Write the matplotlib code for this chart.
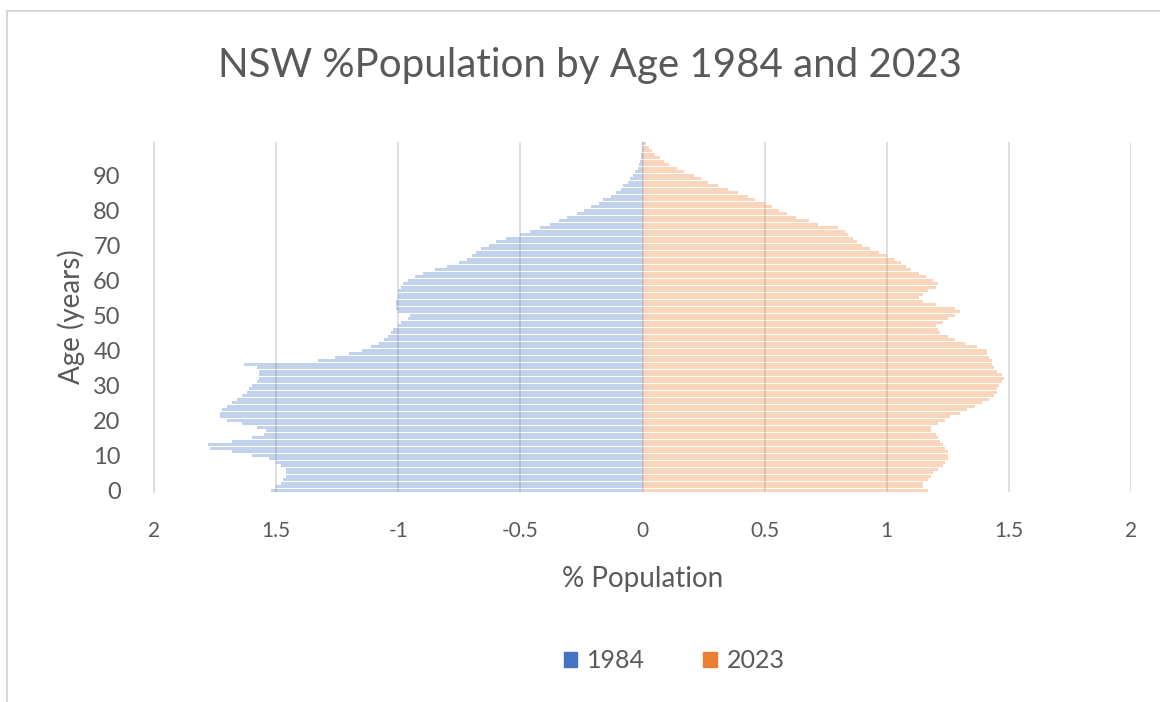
import numpy as np
import matplotlib
matplotlib.use("Agg")
import matplotlib.pyplot as plt
from matplotlib.patches import Rectangle

plt.rcParams['font.family'] = ['Lato', 'DejaVu Sans']

# single-year ages 0..99
ages = list(range(100))

# % of NSW population at each age, 1984 (drawn to the left)
pop1984 = [1.52, 1.50, 1.48, 1.47, 1.46, 1.46, 1.46, 1.48, 1.50, 1.53,
           1.60, 1.68, 1.77, 1.78, 1.68, 1.60, 1.55, 1.54, 1.58, 1.64,
           1.70, 1.73, 1.73, 1.72, 1.70, 1.68, 1.66, 1.64, 1.62, 1.61,
           1.60, 1.58, 1.57, 1.57, 1.57, 1.58, 1.63, 1.33, 1.26, 1.20,
           1.15, 1.11, 1.08, 1.06, 1.04, 1.03, 1.02, 1.00, 0.99, 0.96,
           0.95, 1.00, 1.01, 1.01, 1.01, 1.00, 1.00, 1.00, 0.99, 0.98,
           0.96, 0.93, 0.90, 0.85, 0.80, 0.75, 0.72, 0.70, 0.68, 0.66,
           0.63, 0.60, 0.56, 0.50, 0.46, 0.42, 0.38, 0.34, 0.31, 0.27,
           0.24, 0.21, 0.18, 0.16, 0.13, 0.11, 0.09, 0.08, 0.06, 0.05,
           0.04, 0.03, 0.02, 0.015, 0.01, 0.008, 0.005, 0.003, 0.002, 0.001]

# % of NSW population at each age, 2023 (drawn to the right)
pop2023 = [1.17, 1.15, 1.15, 1.17, 1.18, 1.19, 1.21, 1.23, 1.24, 1.25,
           1.25, 1.25, 1.24, 1.23, 1.22, 1.21, 1.20, 1.18, 1.18, 1.21,
           1.24, 1.26, 1.30, 1.33, 1.36, 1.39, 1.42, 1.44, 1.45, 1.45,
           1.46, 1.47, 1.48, 1.47, 1.45, 1.44, 1.43, 1.43, 1.42, 1.41,
           1.41, 1.37, 1.32, 1.28, 1.25, 1.22, 1.21, 1.20, 1.23, 1.25,
           1.28, 1.30, 1.28, 1.20, 1.15, 1.13, 1.15, 1.17, 1.20, 1.21,
           1.19, 1.16, 1.13, 1.10, 1.08, 1.06, 1.03, 1.00, 0.97, 0.93,
           0.90, 0.88, 0.86, 0.84, 0.83, 0.80, 0.72, 0.68, 0.63, 0.59,
           0.56, 0.53, 0.50, 0.46, 0.43, 0.39, 0.35, 0.31, 0.27, 0.24,
           0.21, 0.17, 0.14, 0.11, 0.09, 0.07, 0.05, 0.04, 0.025, 0.015]

xticks = [-2, -1.5, -1, -0.5, 0, 0.5, 1, 1.5, 2]
xticklabels = ["2", "1.5", "-1", "-0.5", "0", "0.5", "1", "1.5", "2"]
yticks = list(range(0, 100, 10))

blue = '#4472C4'
orange = '#ED7D31'
txt = '#595959'
grid = '#D9D9D9'

fig = plt.figure(figsize=(11.6, 7.02), dpi=100)
# chart border
fig.patches.append(Rectangle((7/1160, -0.01), 1.1, (702-11)/702 + 0.01, transform=fig.transFigure,
                             fill=False, edgecolor='#D9D9D9', linewidth=1.5))

ax = fig.add_axes([154/1160, (702-492)/702, 977/1160, 350/702])

# pale fill, thin bars -> the striped pyramid look
ax.barh(ages, -np.array(pop1984), height=0.75, color=blue, alpha=0.32, linewidth=0, zorder=2)
ax.barh(ages, pop2023, height=0.75, color=orange, alpha=0.32, linewidth=0, zorder=2)

ax.set_xlim(-2, 2)
ax.set_ylim(-0.5, 99.5)
ax.set_xticks(xticks)
ax.set_xticklabels(xticklabels)
ax.set_yticks(yticks)
ax.tick_params(length=0, labelcolor=txt)
ax.tick_params(axis='x', pad=21, labelsize=15)
ax.tick_params(axis='y', pad=24, labelsize=17)
ax.xaxis.grid(True, color=grid, linewidth=1.2, zorder=0)
ax.set_axisbelow(True)
for s in ['top', 'right', 'bottom']:
    ax.spines[s].set_visible(False)
ax.spines['left'].set_color(grid)
ax.spines['left'].set_linewidth(1.2)

ax.set_xlabel('% Population', fontsize=20, color=txt, labelpad=18)
ax.set_ylabel('Age (years)', fontsize=20, color=txt, labelpad=6)
fig.text(590/1160, 1 - 65/702, 'NSW %Population by Age 1984 and 2023', fontsize=29,
         color=txt, ha='center', va='center')

# legend handles keep the full series colour
h1 = Rectangle((0, 0), 1, 1, color=blue)
h2 = Rectangle((0, 0), 1, 1, color=orange)
fig.legend([h1, h2], ['1984', '2023'], loc='center', bbox_to_anchor=(674/1160, 1 - 661/702),
           ncol=2, frameon=False, fontsize=18, labelcolor=txt, handlelength=0.55,
           handleheight=0.55, columnspacing=2.3, handletextpad=0.4)

fig.savefig('out.png', dpi=100, facecolor='white')
